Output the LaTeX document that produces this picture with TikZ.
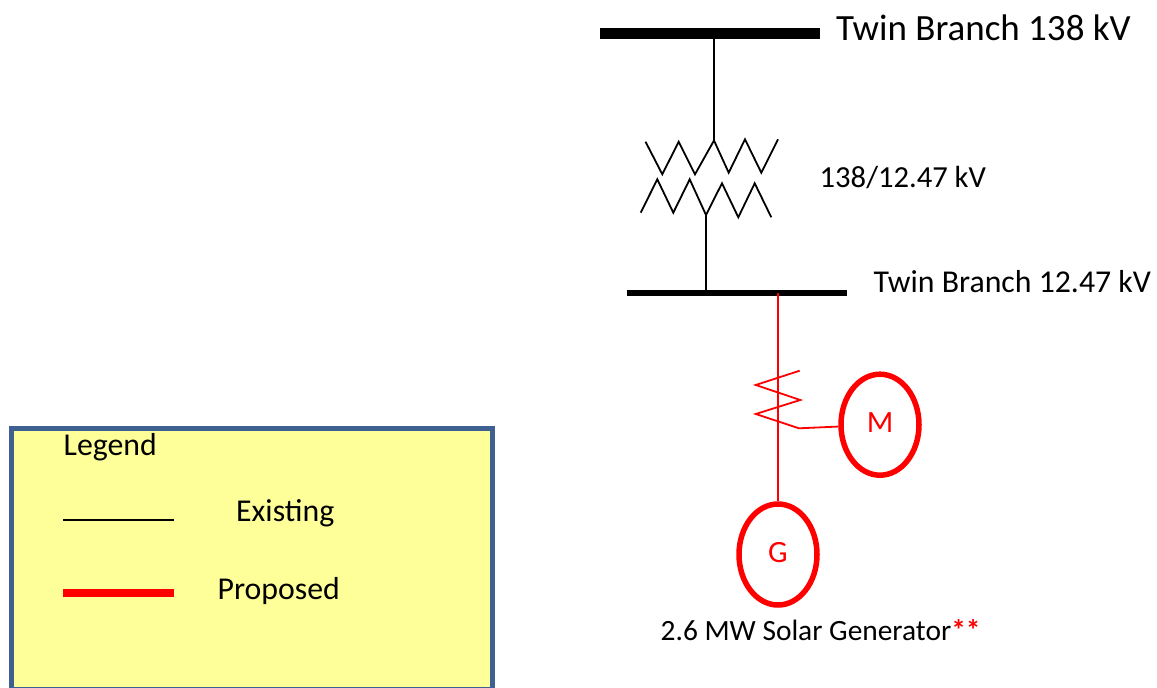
\documentclass[tikz,border=0pt]{standalone}
\usepackage{fontspec}
\setmainfont{Carlito}
\usetikzlibrary{positioning}
\usetikzlibrary{shapes.geometric}
\definecolor{legendfill}{HTML}{FFFF99}
\definecolor{legendedge}{HTML}{3F6192}
\tikzset{
  busbar/.style={draw,black,line width=#1},
  existing/.style={draw,black,line width=1.8pt},
  proposed/.style={draw,red,line width=1.8pt},
  machine/.style={draw,red,line width=5.5pt,ellipse,minimum width=78pt,minimum height=101pt,inner sep=0pt,text=red,font=\fontsize{31}{35}\selectfont},
  label/.style={inner sep=0pt,anchor=west}
}
\begin{document}
\begin{tikzpicture}[x=1pt,y=-1pt]
        \useasboundingbox (0,0) rectangle (1157,688);

        % Legend box
        \node (legendbox) [draw=legendedge,fill=legendfill,line width=5pt,minimum width=480.5pt,minimum height=260.5pt,inner sep=0pt] at (251.75,558.75) {};
        \node[label] (legendtitle) at (63.5,447) {\fontsize{31.8}{36}\selectfont Legend};
        \coordinate (existingL) at (63,520);
        \coordinate (existingR) at (174,520);
        \coordinate (proposedL) at (63,593);
        \coordinate (proposedR) at (174,593);
        \draw[black,line width=2.5pt] (existingL) -- (existingR);
        \draw[red,line width=8pt] (proposedL) -- (proposedR);
        \node[label] (existinglabel) at (236,513) {\fontsize{31.8}{36}\selectfont Existing};
        \node[label] (proposedlabel) at (217.5,591) {\fontsize{31.8}{36}\selectfont Proposed};

        % Buses
        \coordinate (topbusL) at (600,33);
        \coordinate (topbusR) at (820,33);
        \coordinate (lowbusL) at (627,293);
        \coordinate (lowbusR) at (847,293);
        \draw[busbar=11pt] (topbusL) -- (topbusR);
        \draw[busbar=6pt] (lowbusL) -- (lowbusR);
        \node[label] (toplabel) at (836,28) {\fontsize{37}{42}\selectfont Twin Branch 138 kV};
        \node[label] (lowlabel) at (873.5,282) {\fontsize{31.8}{36}\selectfont Twin Branch 12.47 kV};
        \node[label] (xfmrlabel) at (819.5,178) {\fontsize{30.6}{35}\selectfont 138/12.47 kV};

        % Transformer windings
        \coordinate (hvtap) at (714,140.5);
        \coordinate (lvtap) at (706,215);
        \draw[existing] (645.5,141.7) -- (662.3,174.3) -- (678.7,141.7) -- (695,174.3) -- (hvtap)
            -- (728.7,172.7) -- (745,139.3) -- (761.3,172.7) -- (778,139.3);
        \draw[existing] (640.7,212.7) -- (657.3,179.3) -- (673.3,212.7) -- (689.7,179.3) -- (lvtap)
            -- (722,183.3) -- (738.3,217.3) -- (754.7,183.3) -- (771.3,217.3);
        \draw[existing] (714,33) -- (hvtap);
        \draw[existing] (lvtap) -- (706,293);

        % Proposed machines
        \node[machine] (motor) at (880,424.7) {\raisebox{5pt}{M}};
        \node[machine] (gen) at (778,554.5) {\raisebox{5pt}{G}};
        \coordinate (lowbustap) at (778,293);
        \coordinate (cttail) at (799,428.3);
        \draw[proposed] (lowbustap) -- (gen);
        \draw[proposed] (799.7,370.7) -- (755.7,385) -- (800.3,400) -- (755.7,414) -- (cttail) -- (motor);

        \node[label] (genlabel) at (660.5,630) {\fontsize{29.4}{34}\selectfont 2.6 MW Solar Generator\textcolor{red}{\textbf{**}}};
    \end{tikzpicture}
\end{document}
